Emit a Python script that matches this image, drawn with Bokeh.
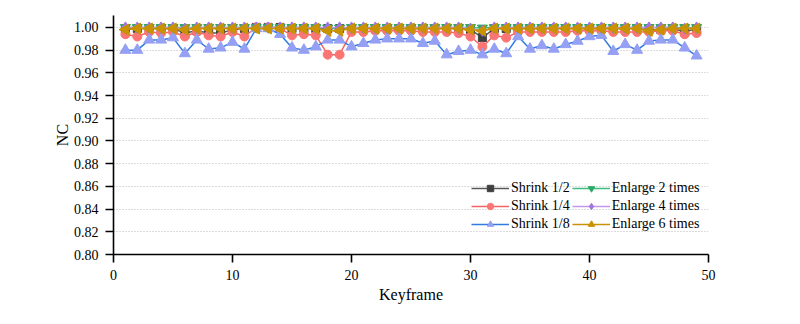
import math
from bokeh.plotting import figure
from bokeh.models import Range1d, FixedTicker, NumeralTickFormatter, Legend, LegendItem, ColumnDataSource
from bokeh.embed import file_html
from bokeh.resources import INLINE

keyframes = list(range(1, 50))

shrink_half = [0.999, 0.999, 0.999, 0.999, 0.999, 0.995, 0.997, 0.995, 0.995, 0.998,
               0.999, 1.000, 1.000, 1.000, 0.999, 0.999, 0.999, 0.999, 0.999, 0.999,
               0.999, 0.999, 0.999, 0.999, 0.999, 0.999, 0.999, 0.999, 0.999, 0.998,
               0.991, 0.999, 0.999, 0.999, 0.999, 0.999, 0.999, 0.999, 0.999, 0.999,
               0.999, 0.999, 0.999, 0.999, 0.998, 0.998, 0.999, 0.996, 0.999]
shrink_quarter = [0.994, 0.992, 0.996, 0.995, 0.996, 0.992, 0.996, 0.993, 0.992, 0.996,
                  0.992, 1.000, 1.000, 0.999, 0.993, 0.994, 0.993, 0.976, 0.976, 0.996,
                  0.996, 0.997, 0.997, 0.997, 0.997, 0.996, 0.996, 0.996, 0.995, 0.992,
                  0.983, 0.993, 0.991, 0.996, 0.996, 0.996, 0.996, 0.996, 0.997, 0.997,
                  0.997, 0.996, 0.996, 0.996, 0.996, 0.997, 0.997, 0.994, 0.995]
shrink_eighth = [0.980, 0.980, 0.989, 0.989, 0.991, 0.977, 0.989, 0.981, 0.982, 0.987,
                 0.981, 0.999, 0.999, 0.994, 0.982, 0.980, 0.983, 0.989, 0.989, 0.983,
                 0.986, 0.989, 0.990, 0.990, 0.990, 0.986, 0.988, 0.976, 0.979, 0.980,
                 0.976, 0.981, 0.977, 0.992, 0.981, 0.984, 0.981, 0.985, 0.988, 0.992,
                 0.993, 0.979, 0.985, 0.980, 0.988, 0.989, 0.989, 0.982, 0.975]
enlarge_2 = [1.000, 1.000, 1.000, 1.000, 1.000, 1.000, 1.000, 1.000, 1.000, 1.000,
             1.000, 1.000, 1.000, 1.000, 1.000, 1.000, 1.000, 0.9995, 0.9995, 1.000,
             1.000, 1.000, 1.000, 1.000, 1.000, 1.000, 1.000, 1.000, 1.000, 1.000,
             0.9995, 1.000, 1.000, 1.000, 1.000, 1.000, 1.000, 1.000, 1.000, 1.000,
             1.000, 1.000, 1.000, 1.000, 1.000, 1.000, 1.000, 1.000, 1.000]
enlarge_4 = [1.000, 1.000, 1.000, 1.000, 1.000, 0.999, 1.000, 1.000, 1.000, 1.000,
             1.000, 1.000, 1.000, 1.000, 1.000, 1.000, 1.000, 1.000, 1.000, 1.000,
             1.000, 1.000, 1.000, 1.000, 1.000, 1.000, 1.000, 1.000, 1.000, 0.999,
             0.997, 1.000, 1.000, 1.000, 1.000, 1.000, 1.000, 1.000, 1.000, 1.000,
             1.000, 1.000, 1.000, 1.000, 1.000, 1.000, 1.000, 0.999, 1.000]
enlarge_6 = [0.998, 0.999, 0.999, 0.999, 0.999, 0.998, 0.999, 0.999, 0.999, 0.999,
             0.999, 0.999, 0.999, 0.999, 0.999, 0.999, 0.999, 0.997, 0.997, 0.999,
             0.999, 0.999, 0.999, 0.999, 0.999, 0.999, 0.999, 0.999, 0.999, 0.998,
             0.997, 0.999, 0.999, 0.999, 0.999, 0.999, 0.999, 0.999, 0.999, 0.999,
             0.999, 0.999, 0.999, 0.999, 0.997, 0.998, 0.999, 0.999, 0.999]

series_names = ["Shrink 1/2", "Shrink 1/4", "Shrink 1/8",
                "Enlarge 2 times", "Enlarge 4 times", "Enlarge 6 times"]
x_ticks = [0, 10, 20, 30, 40, 50]
y_ticks = [0.80, 0.82, 0.84, 0.86, 0.88, 0.90, 0.92, 0.94, 0.96, 0.98, 1.00]

FONT = "Liberation Serif"

p = figure(width=784, height=308, output_backend="svg", toolbar_location=None,
           x_range=Range1d(0, 50), y_range=Range1d(0.80, 1.0105),
           min_border_left=113, min_border_right=76, min_border_top=15,
           min_border_bottom=54)
p.outline_line_color = None
p.xgrid.grid_line_color = None
p.ygrid.grid_line_color = "#b8b8b8"
p.ygrid.grid_line_dash = "1 2"
p.ygrid.grid_line_width = 1

for ax in (p.xaxis[0], p.yaxis[0]):
    ax.axis_line_color = "black"
    ax.axis_line_width = 1.6
    ax.major_tick_line_color = "black"
    ax.major_tick_line_width = 1.6
    ax.major_tick_out = 8
    ax.major_tick_in = 0
    ax.minor_tick_line_color = None
    ax.major_label_text_font = FONT
    ax.major_label_text_font_size = "14px"
    ax.major_label_text_color = "black"
    ax.axis_label_text_font = FONT
    ax.axis_label_text_font_size = "16px"
    ax.axis_label_text_font_style = "normal"
    ax.axis_label_text_color = "black"
    ax.major_label_standoff = 7

p.xaxis.ticker = FixedTicker(ticks=x_ticks)
p.yaxis.ticker = FixedTicker(ticks=y_ticks)
p.yaxis.formatter = NumeralTickFormatter(format="0.00")
p.xaxis.axis_label = "Keyframe"
p.yaxis.axis_label = "NC"
p.xaxis.axis_label_standoff = 3
p.yaxis.axis_label_standoff = 0

styles = [
    (shrink_half, "#595959", "#3f3f3f", "square", 0.0, 8),
    (shrink_quarter, "#f46464", "#fb7575", "circle", 0.0, 9),
    (shrink_eighth, "#2f7be0", "#95a0f4", "triangle", 0.0, 11),
    (enlarge_2, "#3fbf7f", "#2ea866", "inverted_triangle", 0.0, 10),
    (enlarge_4, "#c497ea", "#a173e0", "diamond", 0.0, 11),
    (enlarge_6, "#c99200", "#c99200", "triangle", math.pi / 2, 11),
]

items = []
for (vals, lc, mc, marker, ang, sz), name in zip(styles, series_names):
    src = ColumnDataSource(dict(x=keyframes, y=vals))
    l = p.line("x", "y", source=src, line_color=lc, line_width=1.5)
    s = p.scatter("x", "y", source=src, marker=marker, size=sz, angle=ang,
                  fill_color=mc, line_color=mc)
    items.append(LegendItem(label=name, renderers=[l, s]))

legend = Legend(items=items, location=(358, 22), ncols=2,
                label_text_font=FONT, label_text_font_size="14px",
                label_text_color="black", glyph_width=38, glyph_height=16,
                label_standoff=2, spacing=2, padding=0, margin=0,
                label_height=16, background_fill_alpha=0, border_line_alpha=0)
p.add_layout(legend, "center")

open("out.html", "w").write(file_html(p, INLINE))
